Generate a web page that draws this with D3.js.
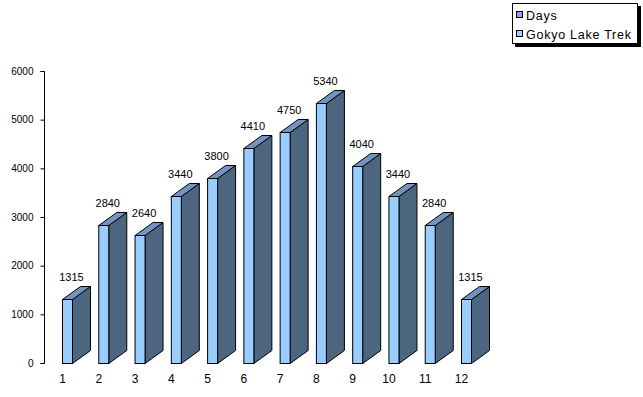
<!DOCTYPE html>
<html><head><meta charset="utf-8">
<script src="https://cdn.jsdelivr.net/npm/d3@7"></script>
<style>body{margin:0;background:#fff}svg{display:block;font-family:"Liberation Sans",Arial,sans-serif}</style>
</head><body><svg id="c" width="643" height="397"></svg>
<script>
const categories = ["1","2","3","4","5","6","7","8","9","10","11","12"];
const values = [1315,2840,2640,3440,3800,4410,4750,5340,4040,3440,2840,1315];
const yTicks = [0,1000,2000,3000,4000,5000,6000];
const legendItems = [{name:"Days", color:"#9999ff"},{name:"Gokyo Lake Trek", color:"#99ccff"}];

const svg = d3.select("#c");
const y = d3.scaleLinear().domain([0,6000]).range([363,71]);
const x = d3.scalePoint().domain(categories).range([62,461]);
const bw = 10, dx = 18, dy = 13;

// y axis
const yAxis = d3.axisLeft(y).tickValues(yTicks).tickFormat(d3.format("d")).tickSize(4).tickSizeOuter(0).tickPadding(7);
const ga = svg.append("g").attr("transform","translate(44.5,0)").call(yAxis);
ga.select(".domain").attr("stroke","#000").attr("d","M-4,"+y(6000)+".5H0V"+y(0)+".5H-4");
ga.selectAll(".tick line").attr("stroke","#000");
ga.selectAll(".tick text").attr("font-size",10).attr("fill","#000").attr("font-family","Liberation Sans, Arial, sans-serif");

// x labels
svg.append("g").selectAll("text").data(categories).join("text")
  .attr("x",d=>x(d)+0.5).attr("y",383).attr("text-anchor","middle")
  .attr("font-size",12).text(d=>d);

// bars
const bars = svg.append("g").selectAll("g").data(values).join("g");
bars.each(function(v,i){
  const g = d3.select(this);
  const x0 = x(categories[i]) + 0.5, x1 = x0 + bw;
  const yt = Math.round(y(v)) + 0.5, yb = y(0) + 0.5;
  g.append("path").attr("d",`M${x1},${yt}L${x1+dx},${yt-dy}L${x1+dx},${yb-dy}L${x1},${yb}Z`)
    .attr("fill","#4d6680").attr("stroke","#000").attr("stroke-width",1);
  g.append("path").attr("d",`M${x0},${yt}L${x0+dx},${yt-dy}L${x1+dx},${yt-dy}L${x1},${yt}Z`)
    .attr("fill","#7393c0").attr("stroke","#000").attr("stroke-width",1);
  g.append("rect").attr("x",x0).attr("y",yt).attr("width",bw).attr("height",yb-yt)
    .attr("fill","#99ccff").attr("stroke","#000").attr("stroke-width",1);
  g.append("text").attr("x",x0+9).attr("y",yt-dy-5.5).attr("text-anchor","middle")
    .attr("font-size",11).text(v);
});

// legend
const lg = svg.append("g");
lg.append("rect").attr("x",515).attr("y",6).attr("width",126).attr("height",41).attr("fill","#000");
lg.append("rect").attr("x",512.5).attr("y",3.5).attr("width",125).attr("height",40).attr("fill","#fff").attr("stroke","#000");
legendItems.forEach((d,i)=>{
  lg.append("rect").attr("x",516.5).attr("y",11.5+i*19).attr("width",6).attr("height",6)
    .attr("fill",d.color).attr("stroke","#000");
  lg.append("text").attr("x",526).attr("y",19.5+i*19).attr("font-size",12.5).attr("letter-spacing",0.75).text(d.name);
});
</script></body></html>
